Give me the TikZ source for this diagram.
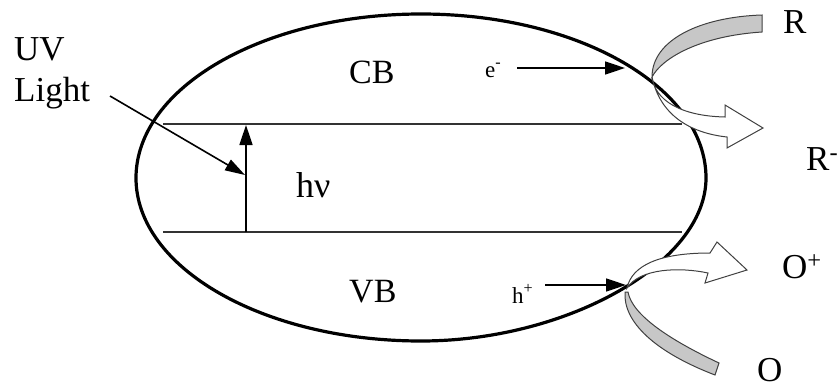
\documentclass[tikz,border=0pt]{standalone}
\usepackage{fontspec}
\setmainfont{Liberation Serif}
\usetikzlibrary{arrows.meta}
\begin{document}
\begin{tikzpicture}[x=1pt,y=-1pt,
  lbl/.style={inner sep=0pt,anchor=base west,font=\fontsize{35}{40}\selectfont},
  bandlbl/.style={inner sep=0pt,anchor=base west,font=\fontsize{34}{38}\selectfont},
  small/.style={inner sep=0pt,anchor=base west,font=\fontsize{23}{28}\selectfont},
  band/.style={draw=black!80,line width=2pt},
  arr/.style={draw=black,line width=1.6pt,-{Triangle[length=20pt,width=13pt]}},
  ribbonw/.style={fill=white,draw=black!75,line width=1pt},
  ribbong/.style={fill=black!22,draw=black!75,line width=1pt}]
\useasboundingbox (0,0) rectangle (838,388);
% particle outline
\draw[line width=3.2pt] (136,178) .. controls (136,87.4) and (263.6,14) .. (421,14)
   .. controls (578.4,14) and (706,87.4) .. (706,178)
   .. controls (706,263) and (567,341) .. (421,341)
   .. controls (263.6,341) and (136,268) .. (136,178) -- cycle;
% band edges
\coordinate (cbL) at (163,124);
\coordinate (cbR) at (682,124);
\coordinate (vbL) at (163,232);
\coordinate (vbR) at (682,232);
\draw[band] (cbL) -- (cbR);
\draw[band] (vbL) -- (vbR);
% excitation
\coordinate (exBot) at (246,232);
\coordinate (exTop) at (246,125);
\draw[arr] (exBot) -- (exTop);
% labels
\node[lbl] (uv) at (14,60) {UV};
\node[lbl] (light) at (14,101) {Light};
\node[bandlbl] (cb) at (349,83) {CB};
\node[bandlbl] (vb) at (349,302) {VB};
\node[lbl,font=\fontsize{36}{40}\selectfont] (hnu) at (296,197) {hν};
\node[small] (el) at (485,77) {e\textsuperscript{-}};
\node[small] (ho) at (512,303) {h\textsuperscript{+}};
\node[lbl] (R) at (783,33) {R};
\node[lbl] (Rm) at (806,170) {R\textsuperscript{-}};
\node[lbl] (Op) at (782,278) {O\textsuperscript{+}};
\node[lbl] (O) at (757,381) {O};
% UV light arrow
\coordinate (uvS) at (110,96);
\coordinate (uvE) at (245,175);
\draw[draw=black!75,line width=1.6pt,-{Triangle[length=20pt,width=12pt]},black] (uvS) -- (uvE);
% electron and hole arrows
\coordinate (eS) at (517,68);
\coordinate (eE) at (625,68);
\coordinate (hS) at (545,285);
\coordinate (hE) at (626,285);
\draw[arr] (eS) -- (eE);
\draw[arr] (hS) -- (hE);
% top ribbon (R -> R-)
\draw[ribbong] (762,15) .. controls (700,17) and (652,40) .. (652,77)
   .. controls (662,58) and (700,36) .. (762,32) -- cycle;
\draw[ribbonw] (652,77) .. controls (655,100) and (680,116) .. (725,117)
   -- (725,105) -- (763,128) -- (727,148) -- (727,137)
   .. controls (690,133) and (660,115) .. (652,77) -- cycle;
% bottom ribbon (O -> O+)
\draw[ribbong] (625,292) .. controls (623,322) and (655,352) .. (715,375)
   -- (719,363) .. controls (670,340) and (632,315) .. (628,292) -- cycle;
\draw[ribbonw] (627,288) .. controls (632,265) and (660,253) .. (710,253)
   -- (717,242) -- (747,270) -- (705,283) -- (708,273)
   .. controls (680,267) and (640,268) .. (627,288) -- cycle;
\end{tikzpicture}
\end{document}
